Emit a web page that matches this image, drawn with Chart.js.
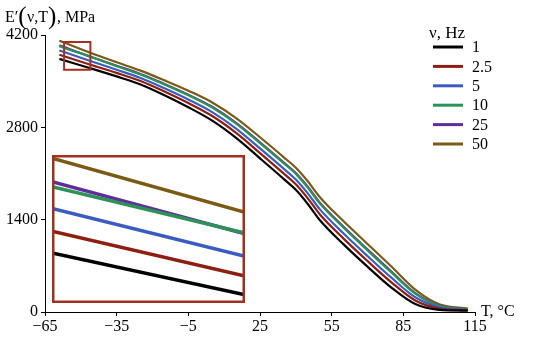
<!DOCTYPE html>
<html>
<head>
<meta charset="UTF-8">
<title>E'(v,T)</title>
<script src="https://cdn.jsdelivr.net/npm/chart.js"></script>
<style>
  body { margin: 0; background: #fff; }
  #wrap { position: relative; width: 550px; height: 344px; }
  #inset { position: absolute; left: 52px; top: 155px; }
</style>
</head>
<body>
<div id="wrap">
  <canvas id="main" width="550" height="344"></canvas>
  <canvas id="inset" width="193" height="148"></canvas>
</div>
<script>
// temperature, °C
var temps = [-59, -57, -46, -35, -25, -15, -5, 5, 15, 25, 35, 40, 45, 50, 60, 70, 80, 90, 100, 112];
// storage modulus per frequency, MPa
var e1   = [3837, 3815, 3696, 3572, 3450, 3287, 3105, 2902, 2640, 2330, 2015, 1852, 1637, 1395, 1025, 687, 370, 120, 32, 20];
var e2_5 = [3900, 3877, 3750, 3626, 3503, 3343, 3168, 2971, 2715, 2410, 2098, 1936, 1723, 1483, 1113, 773, 450, 175, 53, 28];
var e5   = [3966, 3942, 3806, 3673, 3549, 3393, 3223, 3031, 2781, 2480, 2170, 2009, 1799, 1560, 1190, 849, 520, 223, 72, 34];
var e10  = [4030, 4004, 3872, 3727, 3601, 3449, 3285, 3100, 2856, 2560, 2253, 2093, 1885, 1647, 1277, 935, 600, 278, 93, 42];
var e25  = [4043, 4018, 3870, 3735, 3610, 3458, 3295, 3111, 2868, 2573, 2266, 2107, 1899, 1661, 1291, 949, 613, 287, 97, 43];
var e50  = [4112, 4085, 3931, 3787, 3660, 3512, 3355, 3177, 2940, 2650, 2345, 2187, 1982, 1745, 1375, 1032, 690, 340, 117, 50];

var freqLabels = ['1', '2.5', '5', '10', '25', '50'];
var colors = ['#000000', '#8e1e12', '#3a5cc0', '#2e9158', '#5e2f9c', '#7a5a14'];

var xTicks = [-65, -35, -5, 25, 55, 85, 115];
var yTicks = [0, 1400, 2800, 4200];

// zoomed window shown in the inset
var zoomT = [-57, -46];
var zoomE = [3673, 4094];

var serif = '"Liberation Serif", "DejaVu Serif", serif';
var boxColor = '#a3301f';

function series(width) {
  return [e1, e2_5, e5, e10, e25, e50].map(function (vals, i) {
    return {
      label: freqLabels[i],
      data: temps.map(function (t, k) { return { x: t, y: vals[k] }; }),
      borderColor: colors[i],
      borderWidth: width,
      pointRadius: 0,
      fill: false,
      clip: 0
    };
  });
}

function minus(v) {
  return v < 0 ? '\u2212' + Math.abs(v) : String(v);
}

var decor = {
  id: 'decor',
  afterDraw: function (chart) {
    var ctx = chart.ctx;
    var xs = chart.scales.x, ys = chart.scales.y;
    ctx.save();

    // zoom box
    ctx.strokeStyle = boxColor;
    ctx.lineWidth = 2;
    var x0 = xs.getPixelForValue(zoomT[0]), x1 = xs.getPixelForValue(zoomT[1]);
    var y0 = ys.getPixelForValue(zoomE[1]), y1 = ys.getPixelForValue(zoomE[0]);
    ctx.strokeRect(x0, y0, x1 - x0, y1 - y0);

    // y axis title with tall brackets
    ctx.fillStyle = '#000';
    ctx.textBaseline = 'alphabetic';
    ctx.textAlign = 'left';
    var parts = [['E\u2032', 16, 22], ['(', 25, 24], ['\u03bd,T', 16, 22], [')', 25, 24], [', MPa', 16, 22]];
    var px = 5;
    parts.forEach(function (p) {
      ctx.font = p[1] + 'px ' + serif;
      ctx.fillText(p[0], px, p[2]);
      px += ctx.measureText(p[0]).width + (p[1] > 16 ? 0.5 : 0);
    });

    // x axis title
    ctx.font = '16px ' + serif;
    ctx.textBaseline = 'middle';
    ctx.fillText('T, \u00b0C', xs.right + 6, ys.bottom);

    // legend
    ctx.font = '17px ' + serif;
    ctx.fillText('\u03bd, Hz', 429, 34);
    ctx.font = '16px ' + serif;
    chart.data.datasets.forEach(function (ds, i) {
      var y = 47 + i * 19.4;
      ctx.strokeStyle = ds.borderColor;
      ctx.lineWidth = 3;
      ctx.beginPath();
      ctx.moveTo(433, y);
      ctx.lineTo(463, y);
      ctx.stroke();
      ctx.fillText(ds.label, 472, y + 1);
    });
    ctx.restore();
  }
};

new Chart(document.getElementById('main'), {
  type: 'line',
  data: { datasets: series(2.2) },
  options: {
    responsive: false,
    animation: false,
    layout: { padding: { top: 35, right: 75, left: 0, bottom: 0 } },
    elements: { line: { cubicInterpolationMode: 'monotone' } },
    plugins: { legend: { display: false }, tooltip: { enabled: false } },
    scales: {
      x: {
        type: 'linear', min: -65, max: 115,
        afterBuildTicks: function (s) { s.ticks = xTicks.map(function (v) { return { value: v }; }); },
        afterFit: function (s) { s.height = 32; },
        grid: { drawOnChartArea: false, drawTicks: true, tickLength: 4, color: '#000' },
        border: { display: true, color: '#000', width: 1 },
        ticks: { color: '#000', font: { family: serif, size: 16 }, padding: 1, maxRotation: 0, autoSkip: false, callback: minus }
      },
      y: {
        type: 'linear', min: 0, max: 4200,
        afterBuildTicks: function (s) { s.ticks = yTicks.map(function (v) { return { value: v }; }); },
        afterFit: function (s) { s.width = 45; },
        grid: { drawOnChartArea: false, drawTicks: true, tickLength: 4, color: '#000' },
        border: { display: true, color: '#000', width: 1 },
        ticks: { color: '#000', font: { family: serif, size: 16 }, padding: 3, autoSkip: false, callback: minus }
      }
    }
  },
  plugins: [decor]
});

var frame = {
  id: 'frame',
  beforeDraw: function (chart) {
    var ctx = chart.ctx;
    ctx.save();
    ctx.fillStyle = '#fff';
    ctx.fillRect(0, 0, chart.width, chart.height);
    ctx.restore();
  },
  afterDraw: function (chart) {
    var ctx = chart.ctx;
    ctx.save();
    ctx.strokeStyle = boxColor;
    ctx.lineWidth = 2.5;
    ctx.strokeRect(1.25, 1.25, chart.width - 2.5, chart.height - 2.5);
    ctx.restore();
  }
};

new Chart(document.getElementById('inset'), {
  type: 'line',
  data: { datasets: series(3.5) },
  options: {
    responsive: false,
    animation: false,
    layout: { padding: 0 },
    elements: { line: { tension: 0 } },
    plugins: { legend: { display: false }, tooltip: { enabled: false } },
    scales: {
      x: { type: 'linear', min: zoomT[0], max: zoomT[1], display: false },
      y: { type: 'linear', min: zoomE[0], max: zoomE[1], display: false }
    }
  },
  plugins: [frame]
});
</script>
</body>
</html>
